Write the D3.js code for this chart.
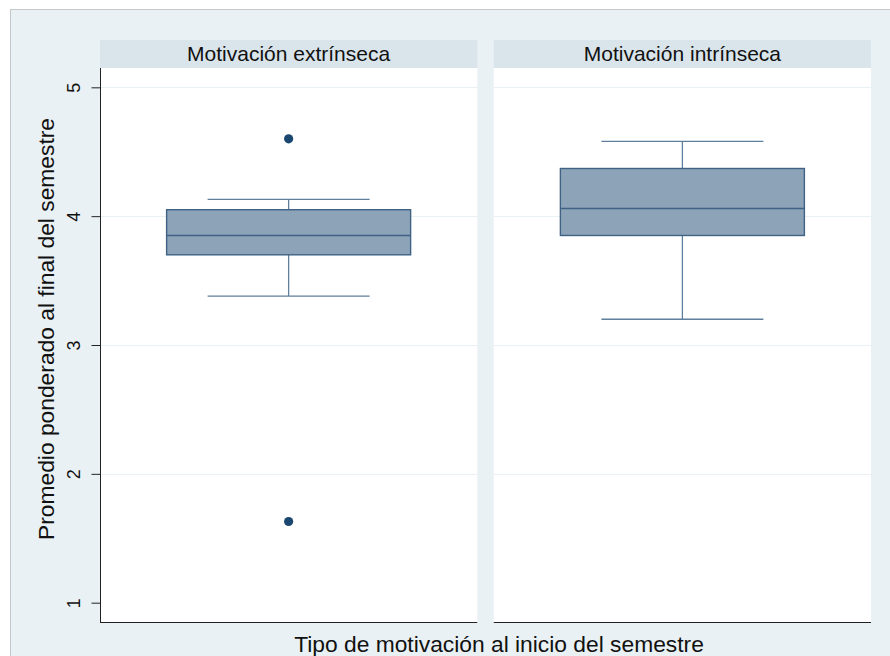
<!DOCTYPE html>
<html>
<head>
<meta charset="utf-8">
<script src="https://cdn.jsdelivr.net/npm/d3@7"></script>
<style>
  body { margin: 0; background: #ffffff; }
  text { font-family: "Liberation Sans", Arial, sans-serif; fill: #111; }
</style>
</head>
<body>
<div id="chart"></div>
<script>
// Panel names and box-plot summary values
const panels = ["Motivación extrínseca", "Motivación intrínseca"];
const q1 = [3.70, 3.85];
const medians = [3.85, 4.06];
const q3 = [4.05, 4.37];
const lowerWhisker = [3.38, 3.20];
const upperWhisker = [4.13, 4.58];
const outliers = [[4.60, 1.63], []];
const yTicks = [1, 2, 3, 4, 5];

const width = 890, height = 656;

const svg = d3.select("#chart").append("svg")
    .attr("width", width)
    .attr("height", height);

// Outer graph region
svg.append("rect")
    .attr("x", 10.5).attr("y", 9.5)
    .attr("width", width).attr("height", height)
    .attr("fill", "#eaf1f4")
    .attr("stroke", "#c4c8ca");

// Plot area geometry
const plotTop = 68, plotBottom = 622;
const y = d3.scaleLinear().domain([0.85, 5.15]).range([plotBottom, plotTop]);

const x = d3.scaleBand()
    .domain(panels)
    .range([100, 871])
    .paddingInner(0.042);

const boxWidth = 244, capWidth = 162;

panels.forEach(function (p, i) {
    const x0 = x(p), bw = x.bandwidth(), cx = x0 + bw / 2;
    const g = svg.append("g");

    // Strip
    g.append("rect")
        .attr("x", x0).attr("y", 40)
        .attr("width", bw).attr("height", plotTop - 40)
        .attr("fill", "#d9e5eb");
    g.append("text")
        .attr("x", cx).attr("y", 61)
        .attr("text-anchor", "middle")
        .style("font-size", "21px")
        .text(p);

    // Plot region
    g.append("rect")
        .attr("x", x0).attr("y", plotTop)
        .attr("width", bw).attr("height", plotBottom - plotTop)
        .attr("fill", "#ffffff");

    // Gridlines
    g.selectAll(".grid")
        .data(yTicks.slice(1))
        .enter().append("line")
        .attr("x1", x0).attr("x2", x0 + bw)
        .attr("y1", function (d) { return Math.round(y(d)) + 0.5; })
        .attr("y2", function (d) { return Math.round(y(d)) + 0.5; })
        .attr("stroke", "#eaf1f4")
        .attr("stroke-width", 1.2);

    // Whiskers
    const wColor = "#5f7f9c";
    g.append("line")
        .attr("x1", cx).attr("x2", cx)
        .attr("y1", y(upperWhisker[i])).attr("y2", y(q3[i]))
        .attr("stroke", wColor).attr("stroke-width", 1.3);
    g.append("line")
        .attr("x1", cx).attr("x2", cx)
        .attr("y1", y(q1[i])).attr("y2", y(lowerWhisker[i]))
        .attr("stroke", wColor).attr("stroke-width", 1.3);
    [upperWhisker[i], lowerWhisker[i]].forEach(function (v) {
        g.append("line")
            .attr("x1", cx - capWidth / 2).attr("x2", cx + capWidth / 2)
            .attr("y1", y(v)).attr("y2", y(v))
            .attr("stroke", wColor).attr("stroke-width", 1.3);
    });

    // Box
    g.append("rect")
        .attr("x", cx - boxWidth / 2)
        .attr("y", y(q3[i]))
        .attr("width", boxWidth)
        .attr("height", y(q1[i]) - y(q3[i]))
        .attr("fill", "#8da3b8")
        .attr("stroke", "#3f6285")
        .attr("stroke-width", 1.4);
    g.append("line")
        .attr("x1", cx - boxWidth / 2).attr("x2", cx + boxWidth / 2)
        .attr("y1", y(medians[i])).attr("y2", y(medians[i]))
        .attr("stroke", "#3f6285").attr("stroke-width", 1.6);

    // Outliers
    g.selectAll(".out")
        .data(outliers[i])
        .enter().append("circle")
        .attr("cx", cx)
        .attr("cy", function (d) { return y(d); })
        .attr("r", 4.6)
        .attr("fill", "#1a476f");

    // Bottom axis line
    g.append("line")
        .attr("x1", x0).attr("x2", x0 + bw)
        .attr("y1", plotBottom + 0.5).attr("y2", plotBottom + 0.5)
        .attr("stroke", "#222").attr("stroke-width", 1);
});

// Y axis on the first panel
const yAxis = d3.axisLeft(y)
    .tickValues(yTicks)
    .tickSize(9)
    .tickFormat(d3.format("d"));

const ax = svg.append("g")
    .attr("transform", "translate(100.5,0)")
    .call(yAxis);
ax.select(".domain").attr("d", "M0," + plotTop + "V" + plotBottom).attr("stroke", "#222");
ax.selectAll(".tick line").attr("stroke", "#222");
ax.selectAll(".tick text")
    .attr("transform", "translate(-21,0) rotate(-90)")
    .attr("x", 0).attr("y", 0).attr("dy", 0)
    .attr("text-anchor", "middle")
    .style("font-size", "18px")
    .style("font-family", "'Liberation Sans', Arial, sans-serif")
    .attr("fill", "#111");

// Axis titles
svg.append("text")
    .attr("text-anchor", "middle")
    .attr("transform", "translate(54,329) rotate(-90)")
    .style("font-size", "22.8px")
    .text("Promedio ponderado al final del semestre");

svg.append("text")
    .attr("text-anchor", "middle")
    .attr("x", 499)
    .attr("y", 652)
    .style("font-size", "22.8px")
    .text("Tipo de motivación al inicio del semestre");
</script>
</body>
</html>
